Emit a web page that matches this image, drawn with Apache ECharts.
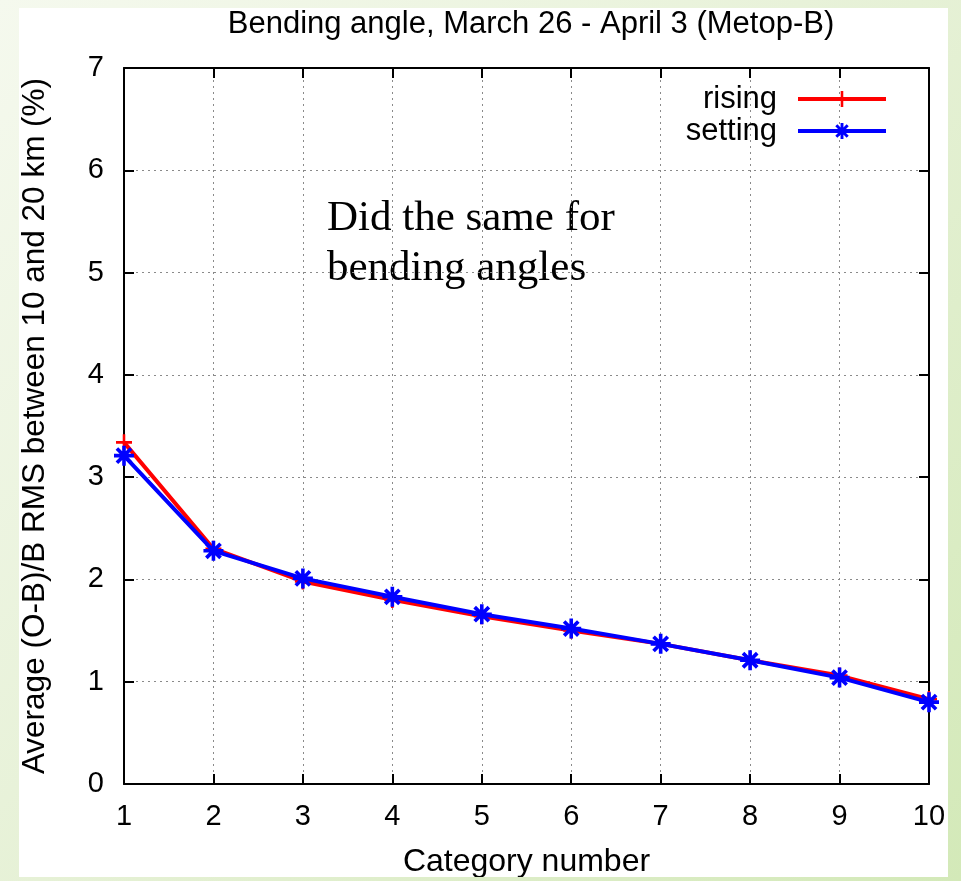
<!DOCTYPE html>
<html>
<head>
<meta charset="utf-8">
<script src="https://cdn.jsdelivr.net/npm/echarts@6/dist/echarts.min.js"></script>
<style>
html,body{margin:0;padding:0;width:961px;height:881px;overflow:hidden;
background:linear-gradient(135deg,#f5f9ee 0%,#e6f1d6 50%,#d3e9b8 100%);}
#chart{position:absolute;left:19px;top:8px;width:929px;height:869px;background:#ffffff;}
</style>
</head>
<body>
<div id="chart"></div>
<script>
const categories = [1, 2, 3, 4, 5, 6, 7, 8, 9, 10];
const rising  = [3.34, 2.30, 1.98, 1.80, 1.64, 1.50, 1.37, 1.21, 1.06, 0.83];
const setting = [3.21, 2.28, 2.01, 1.83, 1.66, 1.52, 1.37, 1.21, 1.04, 0.80];
const yTicks = [0, 1, 2, 3, 4, 5, 6, 7];
const titleText = 'Bending angle, March 26 - April 3 (Metop-B)';
const xName = 'Category number';
const yName = 'Average (O-B)/B RMS between 10 and 20 km (%)';
const noteLines = ['Did the same for', 'bending angles'];

const plusPath = 'path://M-1,-0.16H1V0.16H-1Z M-0.16,-1H0.16V1H-0.16Z';
const starPath = 'path://M-1,-0.18H1V0.18H-1Z M-0.18,-1H0.18V1H-0.18Z ' +
  'M-0.58,-0.84L0.84,0.58L0.58,0.84L-0.84,-0.58Z M0.58,-0.84L0.84,-0.58L-0.58,0.84L-0.84,0.58Z';

const FONT = 'Liberation Sans';
const chart = echarts.init(document.getElementById('chart'), null, {renderer: 'canvas'});

const splitStyle = {show: true, lineStyle: {color: '#8a8a8a', width: 1, type: [2, 4]}};
const axisLine = {show: true, onZero: false, lineStyle: {color: '#000', width: 2}};
const axisTick = {show: true, inside: true, length: 10, lineStyle: {color: '#000', width: 2}};

chart.setOption({
  animation: false,
  backgroundColor: 'transparent',
  title: {
    text: titleText, left: 507, top: -4, textAlign: 'center',
    textStyle: {fontFamily: FONT, fontSize: 31, fontWeight: 'normal', color: '#000'}
  },
  legend: {
    right: 55, top: 70, orient: 'vertical', align: 'right',
    itemWidth: 88, itemHeight: 20, itemGap: 0,
    lineStyle: {width: 4},
    textStyle: {fontFamily: FONT, fontSize: 31, color: '#000', lineHeight: 32, padding: [0, 16, 0, 0]},
    data: [{name: 'rising'}, {name: 'setting'}]
  },
  grid: {left: 105, right: 19, top: 60, bottom: 93, containLabel: false, outerBoundsMode: 'none'},
  xAxis: [{
    type: 'value', min: 1, max: 10, interval: 1,
    name: xName, nameLocation: 'middle', nameGap: 62,
    nameTextStyle: {fontFamily: FONT, fontSize: 32, color: '#000'},
    axisLine: axisLine, axisTick: axisTick, splitLine: splitStyle,
    axisLabel: {fontFamily: FONT, fontSize: 29, color: '#000', margin: 18,
      formatter: v => categories.includes(v) ? String(v) : ''}
  }, {
    type: 'value', min: 1, max: 10, interval: 1, position: 'top',
    axisLine: axisLine, axisTick: axisTick, splitLine: {show: false}, axisLabel: {show: false}
  }],
  yAxis: [{
    type: 'value', min: 0, max: 7, interval: 1,
    name: yName, nameLocation: 'middle', nameGap: 73, nameRotate: 90,
    nameTextStyle: {fontFamily: FONT, fontSize: 31.5, color: '#000'},
    axisLine: axisLine, axisTick: axisTick, splitLine: splitStyle,
    axisLabel: {fontFamily: FONT, fontSize: 29, color: '#000', margin: 20,
      formatter: v => yTicks.includes(v) ? String(v) : ''}
  }, {
    type: 'value', min: 0, max: 7, interval: 1, position: 'right',
    axisLine: axisLine, axisTick: axisTick, splitLine: {show: false}, axisLabel: {show: false}
  }],
  graphic: [{
    type: 'text', left: 308, top: 186, silent: true,
    style: {text: noteLines.join('\n'), font: '43px "Liberation Serif"', fill: '#000', lineHeight: 50}
  }],
  series: [{
    name: 'rising', type: 'line', xAxisIndex: 0, yAxisIndex: 0,
    data: categories.map((c, i) => [c, rising[i]]),
    symbol: plusPath, symbolSize: 16, showAllSymbol: true,
    lineStyle: {color: '#ff0000', width: 4}, itemStyle: {color: '#ff0000'}, z: 2
  }, {
    name: 'setting', type: 'line', xAxisIndex: 0, yAxisIndex: 0,
    data: categories.map((c, i) => [c, setting[i]]),
    symbol: starPath, symbolSize: 20, showAllSymbol: true,
    lineStyle: {color: '#0000ff', width: 4}, itemStyle: {color: '#0000ff'}, z: 3
  }]
});
</script>
</body>
</html>
